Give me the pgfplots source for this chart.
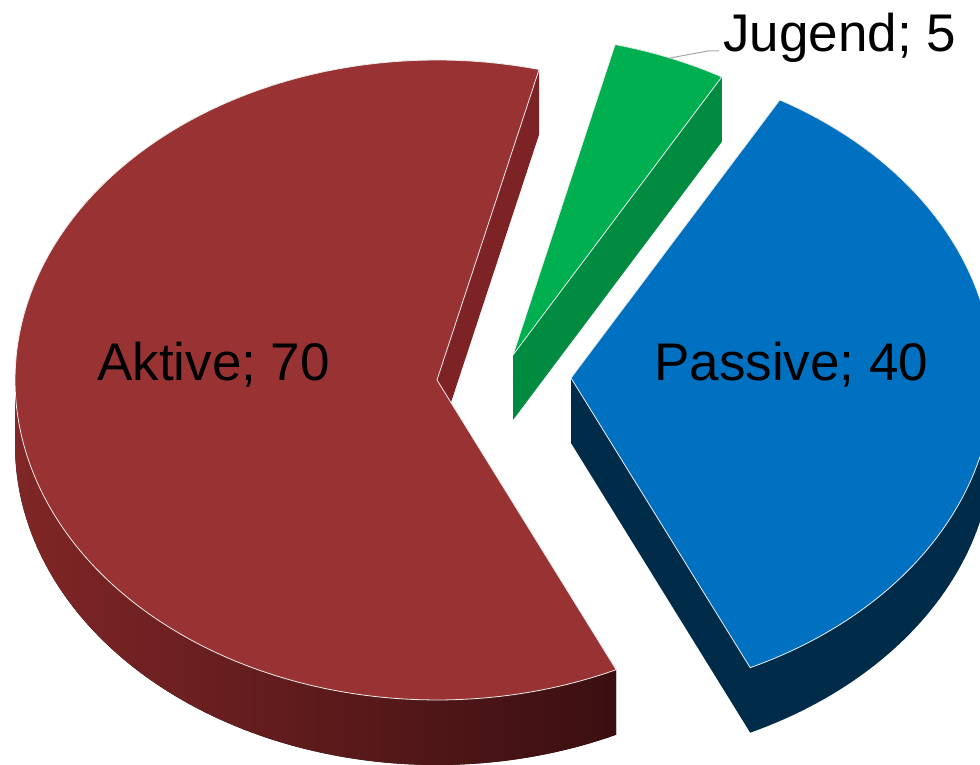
\documentclass[border=0pt]{standalone}
\usepackage{pgfplots}
\usepackage{pgfplotstable}
\pgfplotsset{compat=1.18}
\usepgfplotslibrary{fillbetween}
\usepackage{fontspec}
\setmainfont{Liberation Sans}
\definecolor{aktiv}{RGB}{153,50,51}
\definecolor{aktivface}{RGB}{126,35,37}
\definecolor{aktivwallL}{RGB}{128,38,38}
\definecolor{aktivwallR}{RGB}{58,15,17}
\definecolor{passiv}{RGB}{0,112,192}
\definecolor{passivside}{RGB}{0,44,74}
\definecolor{jugend}{RGB}{0,176,80}
\definecolor{jugendside}{RGB}{0,139,64}

\pgfplotstableread{
name value
Aktive 70
Passive 40
Jugend 5
}\piedata

\begin{document}%
\begin{tikzpicture}
\pgfplotstablegetelem{0}{value}\of\piedata \let\vA\pgfplotsretval
\pgfplotstablegetelem{1}{value}\of\piedata \let\vP\pgfplotsretval
\pgfplotstablegetelem{2}{value}\of\piedata \let\vJ\pgfplotsretval
\pgfmathsetmacro\tot{\vA+\vP+\vJ}
\pgfmathsetmacro\degper{360/\tot}
\def\st{76}
\pgfmathsetmacro\jLo{\st-\degper*\vJ}
\pgfmathsetmacro\pLo{\jLo-\degper*\vP}
\pgfmathsetmacro\aHi{\st+\degper*\vA}
\def\ra{422}\def\rb{320}\def\dep{65}
% centres (exploded)
\def\Ax{437}\def\Ay{380}
\def\Jx{513}\def\Jy{355}
\def\Px{571}\def\Py{378}
% edge points
\pgfmathsetmacro\AsX{\Ax+\ra*cos(\st)}\pgfmathsetmacro\AsY{\Ay-\rb*sin(\st)}
\pgfmathsetmacro\AsYd{\AsY+\dep}\pgfmathsetmacro\AyD{\Ay+\dep}
\pgfmathsetmacro\JsX{\Jx+\ra*cos(\jLo)}\pgfmathsetmacro\JsY{\Jy-\rb*sin(\jLo)}
\pgfmathsetmacro\JsYd{\JsY+\dep}\pgfmathsetmacro\JyD{\Jy+\dep}
\pgfmathsetmacro\PsX{\Px+\ra*cos(\pLo)}\pgfmathsetmacro\PsY{\Py-\rb*sin(\pLo)}
\pgfmathsetmacro\PsYd{\PsY+\dep}\pgfmathsetmacro\PyD{\Py+\dep}
\begin{axis}[
  width=980pt, height=765pt, scale only axis,
  xmin=0, xmax=980, ymin=0, ymax=765, y dir=reverse,
  hide axis, clip=true,
]
% ---------- Aktive ----------
\addplot[fill=aktivface, draw=none] coordinates {(\Ax,\Ay) (\AsX,\AsY) (\AsX,\AsYd) (\Ax,\AyD)} -- cycle;
\addplot[draw=none, name path=atop, domain=180:\aHi, samples=80, variable=\t]
  ({\Ax+\ra*cos(\t)},{\Ay-\rb*sin(\t)});
\addplot[draw=none, name path=abot, domain=180:\aHi, samples=80, variable=\t]
  ({\Ax+\ra*cos(\t)},{\Ay+\dep-\rb*sin(\t)});
\addplot[left color=aktivwallL, right color=aktivwallR, draw=none] fill between[of=atop and abot];
\addplot[fill=aktiv, draw=white!92!black, line width=0.8pt, domain=\st:\aHi, samples=120, variable=\t]
  ({\Ax+\ra*cos(\t)},{\Ay-\rb*sin(\t)}) -- (axis cs:\Ax,\Ay) -- cycle;
% ---------- Jugend ----------
\addplot[fill=jugendside, draw=none] coordinates {(\Jx,\Jy) (\JsX,\JsY) (\JsX,\JsYd) (\Jx,\JyD)} -- cycle;
\addplot[fill=jugend, draw=white!92!black, line width=0.8pt, domain=\jLo:\st, samples=20, variable=\t]
  ({\Jx+\ra*cos(\t)},{\Jy-\rb*sin(\t)}) -- (axis cs:\Jx,\Jy) -- cycle;
% ---------- Passive ----------
\addplot[fill=passivside, draw=none] coordinates {(\Px,\Py) (\PsX,\PsY) (\PsX,\PsYd) (\Px,\PyD)} -- cycle;
\addplot[draw=none, name path=ptop, domain=\pLo:0, samples=50, variable=\t]
  ({\Px+\ra*cos(\t)},{\Py-\rb*sin(\t)});
\addplot[draw=none, name path=pbot, domain=\pLo:0, samples=50, variable=\t]
  ({\Px+\ra*cos(\t)},{\Py+\dep-\rb*sin(\t)});
\addplot[fill=passivside, draw=none] fill between[of=ptop and pbot];
\addplot[fill=passiv, draw=white!92!black, line width=0.8pt, domain=\pLo:\jLo, samples=80, variable=\t]
  ({\Px+\ra*cos(\t)},{\Py-\rb*sin(\t)}) -- (axis cs:\Px,\Py) -- cycle;
% ---------- labels ----------
\addplot[draw=gray!70, line width=1pt] coordinates {(670,58) (708,51) (719,51)};
\node[anchor=base west, inner sep=0pt, font=\fontsize{53}{60}\selectfont] at (axis cs:723,52) {Jugend; 5};
\node[anchor=base west, inner sep=0pt, font=\fontsize{53}{60}\selectfont] at (axis cs:97,381) {Aktive; 70};
\node[anchor=base west, inner sep=0pt, font=\fontsize{53}{60}\selectfont] at (axis cs:654,381) {Passive; 40};
\end{axis}
\pgfresetboundingbox
\path (current axis.south west) rectangle (current axis.north east);
\end{tikzpicture}%
\end{document}
